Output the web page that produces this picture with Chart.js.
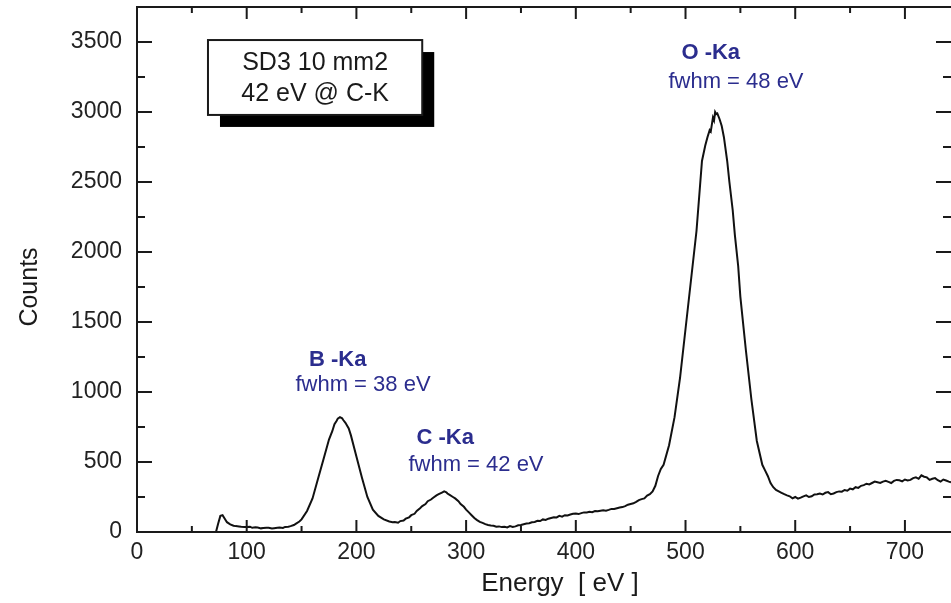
<!DOCTYPE html>
<html>
<head>
<meta charset="utf-8">
<title>SD3 spectrum</title>
<script src="https://cdn.jsdelivr.net/npm/chart.js@4.4.1/dist/chart.umd.min.js"></script>
<style>
    html, body { margin: 0; padding: 0; background: #fff; }
    canvas { display: block; }
</style>
</head>
<body>
<canvas id="spectrumChart" width="951" height="603"></canvas>
<script>
const energies = [
    70, 72, 74, 76, 78, 80, 82, 85, 88, 90, 93, 95, 98, 100, 103, 105, 108, 110, 113, 115,
    118, 120, 123, 125, 128, 130, 133, 135, 138, 140, 143, 145, 148, 150, 155, 160, 165, 170, 175, 178,
    180, 182, 183, 185, 187, 188, 190, 193, 195, 200, 205, 210, 215, 220, 225, 230, 233, 235, 238, 240,
    243, 245, 248, 250, 253, 255, 258, 260, 263, 265, 268, 270, 273, 275, 278, 280, 282, 283, 285, 288,
    290, 293, 295, 298,
    300, 302.5, 305, 307.5, 310, 312.5, 315, 317.5, 320, 322.5, 325, 327.5, 330, 332.5, 335, 337.5, 340, 342.5, 345, 347.5,
    350, 352.5, 355, 357.5, 360, 362.5, 365, 367.5, 370, 372.5, 375, 377.5, 380, 382.5, 385, 387.5, 390, 392.5, 395, 397.5,
    400, 402.5, 405, 407.5, 410, 412.5, 415, 417.5, 420, 422.5, 425, 427.5, 430, 432.5, 435, 437.5, 440, 442.5, 445, 447.5,
    450, 452.5, 455, 457.5, 460, 462.5, 465, 467.5, 470, 472.5, 475, 477.5, 480,
    485, 490, 495, 500, 505, 510, 513, 515, 518, 520, 522, 523, 525, 526, 527, 528, 529, 531, 533, 535,
    538, 540, 543, 545, 548, 550, 555, 560, 565, 570, 572.5,
    575, 577.5, 580, 582.5, 585, 587.5, 590, 592.5, 595, 597.5, 600, 602.5, 605, 607.5, 610, 612.5, 615, 617.5, 620, 622.5,
    625, 627.5, 630, 632.5, 635, 637.5, 640, 642.5, 645, 647.5, 650, 652.5, 655, 657.5, 660, 662.5, 665, 667.5, 670, 672.5,
    675, 677.5, 680, 682.5, 685, 687.5, 690, 692.5, 695, 697.5, 700, 702.5, 705, 707.5, 710, 712.5, 715, 717.5, 720, 722.5,
    725, 727.5, 730, 732.5, 735, 737.5, 740, 742
];
const counts = [
    0, 0, 60, 115, 120, 95, 70, 55, 45, 42, 40, 38, 36, 35, 38, 30, 34, 32, 26, 28,
    31, 30, 25, 27, 30, 32, 29, 36, 38, 42, 50, 60, 75, 90, 150, 240, 380, 520, 660, 720,
    770, 795, 810, 820, 812, 800, 780, 740, 690, 540, 390, 250, 160, 115, 90, 75, 70, 72, 66, 78,
    82, 95, 105, 120, 130, 150, 170, 185, 200, 220, 232, 245, 262, 270, 282, 290, 284, 275, 265, 250,
    240, 220, 200, 180,
    160, 140, 120, 100, 85, 72, 65, 56, 50, 47, 45, 38, 40, 35, 38, 33, 42, 36, 40, 48,
    50, 55, 60, 63, 70, 72, 80, 78, 90, 86, 95, 100, 105, 104, 115, 110, 120, 118, 125, 130,
    132, 128, 135, 140, 140, 145, 142, 150, 148, 152, 155, 152, 158, 165, 165, 170, 175, 178, 185, 195,
    200, 205, 215, 228, 235, 240, 260, 270, 290, 330, 400, 450, 480,
    620, 820, 1100, 1450, 1800, 2150, 2450, 2650, 2760, 2820, 2870, 2860, 2960, 2940, 3000, 2985, 2990, 2950, 2900, 2820,
    2650, 2500, 2300, 2120, 1900, 1680, 1300, 950, 650, 480, 440,
    400, 350, 320, 300, 290, 280, 270, 262, 255, 240, 250, 238, 245, 255, 262, 250, 255, 268, 270, 275,
    268, 280, 285, 270, 275, 285, 290, 288, 300, 295, 310, 305, 320, 315, 330, 335, 345, 340, 350, 360,
    355, 350, 360, 365, 358, 350, 365, 372, 370, 362, 375, 368, 372, 385, 390, 380, 405, 395, 390, 372,
    380, 385, 370, 360, 375, 368, 360, 355
];

const xTicks = [0, 100, 200, 300, 400, 500, 600, 700];
const yTicks = [0, 500, 1000, 1500, 2000, 2500, 3000, 3500];

const NAVY = '#2b2d8e';
const FONT = '"Liberation Sans", Arial, Helvetica, sans-serif';

// peak annotations, anchored in data coordinates
const peakNotes = [
    { text: 'B -Ka', x: 183, y: 1229, bold: true },
    { text: 'fwhm = 38 eV', x: 206, y: 1050 },
    { text: 'C -Ka', x: 281, y: 671, bold: true },
    { text: 'fwhm = 42 eV', x: 309, y: 479 },
    { text: 'O -Ka', x: 523, y: 3421, bold: true },
    { text: 'fwhm = 48 eV', x: 546, y: 3214 }
];

const framePlugin = {
    id: 'frame',
    afterDatasetsDraw(chart) {
        const { ctx, chartArea: a, scales: { x, y } } = chart;
        ctx.save();
        ctx.strokeStyle = '#1a1a1a';
        ctx.lineWidth = 2;
        ctx.beginPath();
        ctx.moveTo(a.right, a.top);
        ctx.lineTo(a.left, a.top);
        ctx.lineTo(a.left, a.bottom);
        ctx.lineTo(a.right, a.bottom);
        ctx.stroke();

        // inward ticks on all four sides
        ctx.beginPath();
        for (let v = 0; v <= x.max; v += 50) {
            const px = x.getPixelForValue(v);
            const len = v % 100 === 0 ? 12 : 6;
            ctx.moveTo(px, a.bottom); ctx.lineTo(px, a.bottom - len);
            ctx.moveTo(px, a.top); ctx.lineTo(px, a.top + len);
        }
        for (let v = 0; v <= y.max; v += 250) {
            const py = y.getPixelForValue(v);
            const len = v % 500 === 0 ? 15 : 8;
            ctx.moveTo(a.left, py); ctx.lineTo(a.left + len, py);
            ctx.moveTo(a.right, py); ctx.lineTo(a.right - len, py);
        }
        ctx.stroke();
        ctx.restore();
    },
    afterDraw(chart) {
        const { ctx, scales: { x, y } } = chart;
        ctx.save();

        // axis titles
        ctx.fillStyle = '#1a1a1a';
        ctx.textAlign = 'center';
        ctx.textBaseline = 'middle';
        ctx.font = '26px ' + FONT;
        ctx.fillText('Energy  [ eV ]', 560, 584);
        ctx.save();
        ctx.translate(30, 287);
        ctx.rotate(-Math.PI / 2);
        ctx.font = '25px ' + FONT;
        ctx.fillText('Counts', 0, 0);
        ctx.restore();

        // info box with drop shadow
        const bx = x.getPixelForValue(64.7), by = y.getPixelForValue(3514);
        const bw = x.getPixelForValue(260) - bx, bh = y.getPixelForValue(2979) - by;
        ctx.fillStyle = '#000';
        ctx.fillRect(bx + 12, by + 12, bw, bh);
        ctx.fillStyle = '#fff';
        ctx.fillRect(bx, by, bw, bh);
        ctx.lineWidth = 2;
        ctx.strokeStyle = '#1a1a1a';
        ctx.strokeRect(bx, by, bw, bh);
        ctx.fillStyle = '#1a1a1a';
        ctx.font = '25px ' + FONT;
        ctx.fillText('SD3 10 mm2', bx + bw / 2, by + 23);
        ctx.fillText('42 eV @ C-K', bx + bw / 2, by + 54);

        // peak labels
        ctx.fillStyle = NAVY;
        peakNotes.forEach(n => {
            ctx.font = (n.bold ? 'bold ' : '') + '22px ' + FONT;
            ctx.fillText(n.text, x.getPixelForValue(n.x), y.getPixelForValue(n.y));
        });
        ctx.restore();
    }
};

// drop the label overflow padding so the plot box lands where the original's does
const fixPadding = s => {
    s.paddingTop = 0; s.paddingBottom = 0; s.paddingLeft = 0; s.paddingRight = 0;
};

const ctx = document.getElementById('spectrumChart').getContext('2d');
new Chart(ctx, {
    type: 'line',
    data: {
        datasets: [{
            label: 'Counts',
            data: energies.map((e, i) => ({ x: e, y: counts[i] })),
            borderColor: '#111',
            borderWidth: 2,
            pointRadius: 0,
            tension: 0,
            fill: false
        }]
    },
    options: {
        responsive: false,
        animation: false,
        devicePixelRatio: 1,
        layout: { padding: { top: 7, right: 0, left: 0, bottom: 0 } },
        plugins: {
            legend: { display: false },
            tooltip: { enabled: false }
        },
        scales: {
            x: {
                type: 'linear',
                min: 0,
                max: 742,
                grid: { display: false, drawTicks: false },
                border: { display: false },
                afterBuildTicks: s => { s.ticks = xTicks.map(v => ({ value: v })); },
                afterFit: s => { s.height = 71; fixPadding(s); },
                ticks: {
                    padding: 7,
                    color: '#222',
                    maxRotation: 0,
                    callback: v => String(v),
                    font: { family: FONT, size: 23 }
                }
            },
            y: {
                type: 'linear',
                min: 0,
                max: 3750,
                grid: { display: false, drawTicks: false },
                border: { display: false },
                afterBuildTicks: s => { s.ticks = yTicks.map(v => ({ value: v })); },
                afterFit: s => { s.width = 137; fixPadding(s); },
                ticks: {
                    padding: 15,
                    color: '#222',
                    callback: v => String(v),
                    font: { family: FONT, size: 23 }
                }
            }
        }
    },
    plugins: [framePlugin]
});
</script>
</body>
</html>
